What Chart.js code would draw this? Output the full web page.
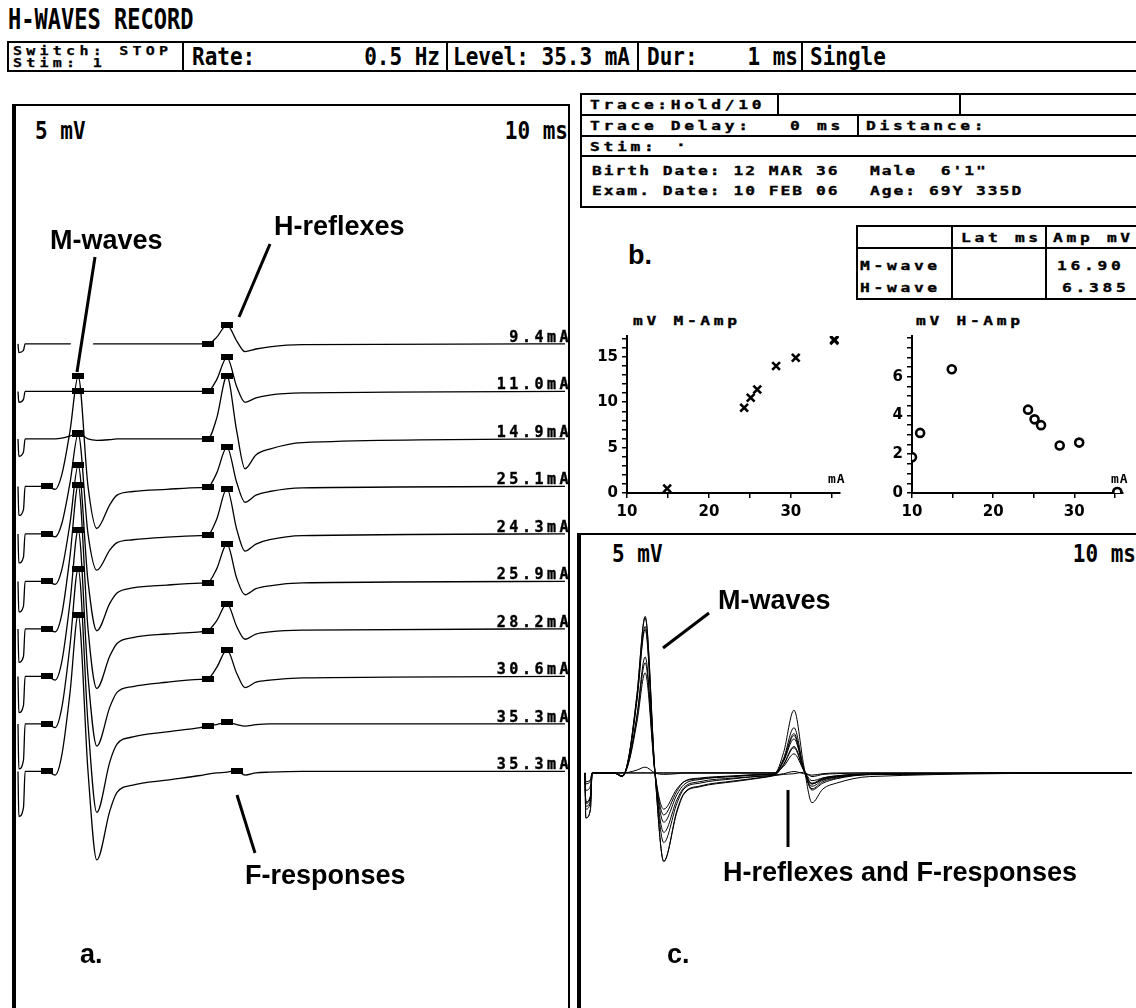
<!DOCTYPE html>
<html>
<head>
<meta charset="utf-8">
<title>H-WAVES RECORD</title>
<script src="https://cdn.jsdelivr.net/npm/chart.js@4.4.1/dist/chart.umd.min.js"></script>
<style>
  html, body { margin:0; padding:0; background:#fff; }
  body { position:relative; width:1136px; height:1008px; overflow:hidden; color:#000; }
  .abs { position:absolute; white-space:pre; line-height:1; }
  .rule { position:absolute; background:#000; }
  .frame { position:absolute; box-sizing:border-box; border:2px solid #000; }
  .crt { font-family:'DejaVu Sans Mono', monospace; font-weight:bold; font-size:21px;
         transform:scaleY(1.2); transform-origin:0 0; }
  .dot { font-family:'DejaVu Sans Mono', monospace; font-weight:bold; font-size:13px;
         letter-spacing:2.95px; transform:scaleX(1.25); transform-origin:0 0;
         -webkit-text-stroke:0.35px #000; }
  .dot.tight { letter-spacing:1.6px; }
  .dot.small { font-size:12px; letter-spacing:3.4px; -webkit-text-stroke:0.25px #000; }
  .note { font-family:'Liberation Sans', Arial, sans-serif; font-weight:bold; font-size:27px; }
  canvas { position:absolute; }
</style>
</head>
<body>

<div class="abs crt" style="left:8px;top:6px;font-size:22px;transform:scaleY(1.25)">H-WAVES RECORD</div>

<!-- stimulator settings bar -->
<div class="frame" style="left:7px;top:41px;width:1140px;height:31px"></div>
<div class="rule" style="left:182px;top:41px;width:2px;height:31px"></div>
<div class="rule" style="left:446px;top:41px;width:2px;height:31px"></div>
<div class="rule" style="left:637px;top:41px;width:2px;height:31px"></div>
<div class="rule" style="left:801px;top:41px;width:2px;height:31px"></div>
<div class="abs dot small" style="left:13px;top:45px">Switch: STOP</div>
<div class="abs dot small" style="left:13px;top:57px">Stim: 1</div>
<div class="abs crt" style="left:192px;top:45px">Rate:</div>
<div class="abs crt" style="left:300px;top:45px;width:140px;text-align:right">0.5 Hz</div>
<div class="abs crt" style="left:453px;top:45px">Level: 35.3 mA</div>
<div class="abs crt" style="left:647px;top:45px">Dur:</div>
<div class="abs crt" style="left:700px;top:45px;width:98px;text-align:right">1 ms</div>
<div class="abs crt" style="left:810px;top:45px">Single</div>

<!-- panel a frame -->
<div class="frame" style="left:12px;top:104px;width:558px;height:1000px;border-left-width:4px"></div>
<div class="abs crt" style="left:35px;top:119px">5 mV</div>
<div class="abs crt" style="left:440px;top:119px;width:128px;text-align:right">10 ms</div>

<!-- trace information block -->
<div class="frame" style="left:580px;top:93px;width:600px;height:115px"></div>
<div class="rule" style="left:580px;top:114px;width:560px;height:2px"></div>
<div class="rule" style="left:580px;top:135px;width:560px;height:2px"></div>
<div class="rule" style="left:580px;top:155px;width:560px;height:2px"></div>
<div class="rule" style="left:777px;top:93px;width:2px;height:22px"></div>
<div class="rule" style="left:959px;top:93px;width:2px;height:22px"></div>
<div class="rule" style="left:857px;top:114px;width:2px;height:22px"></div>
<div class="abs dot" style="left:590px;top:98px">Trace:Hold/10</div>
<div class="abs dot" style="left:590px;top:119px">Trace Delay:</div>
<div class="abs dot" style="left:790px;top:119px">0 ms</div>
<div class="abs dot" style="left:866px;top:119px">Distance:</div>
<div class="abs dot" style="left:590px;top:140px">Stim:</div>
<div class="abs dot" style="left:676px;top:138px">·</div>
<div class="abs dot tight" style="left:592px;top:164px">Birth Date: 12 MAR 36</div>
<div class="abs dot tight" style="left:870px;top:164px">Male  6'1"</div>
<div class="abs dot tight" style="left:592px;top:184px">Exam. Date: 10 FEB 06</div>
<div class="abs dot tight" style="left:870px;top:184px">Age: 69Y 335D</div>

<!-- panel b -->
<div class="abs note" style="left:628px;top:242px">b.</div>
<div class="frame" style="left:856px;top:225px;width:300px;height:75px"></div>
<div class="rule" style="left:856px;top:247px;width:290px;height:2px"></div>
<div class="rule" style="left:951px;top:225px;width:2px;height:75px"></div>
<div class="rule" style="left:1045px;top:225px;width:2px;height:75px"></div>
<div class="abs dot" style="left:961px;top:231px">Lat ms</div>
<div class="abs dot" style="left:1053px;top:231px">Amp mV</div>
<div class="abs dot" style="left:860px;top:259px">M-wave</div>
<div class="abs dot" style="left:860px;top:281px">H-wave</div>
<div class="abs dot" id="mPeakCell" style="left:1057px;top:259px"></div>
<div class="abs dot" id="hPeakCell" style="left:1062px;top:281px"></div>
<div class="abs dot" style="left:633px;top:314px">mV M-Amp</div>
<div class="abs dot" style="left:916px;top:314px">mV H-Amp</div>

<!-- panel c frame -->
<div class="frame" style="left:577px;top:533px;width:600px;height:500px;border-left-width:4px"></div>
<div class="abs crt" style="left:612px;top:542px">5 mV</div>
<div class="abs crt" style="left:1000px;top:542px;width:136px;text-align:right">10 ms</div>

<canvas id="sweepsA" width="552" height="902" style="left:16px;top:106px"></canvas>
<canvas id="sweepsC" width="555" height="473" style="left:581px;top:535px"></canvas>
<canvas id="ampM" width="269" height="206" style="left:587px;top:323px"></canvas>
<canvas id="ampH" width="265" height="206" style="left:872px;top:323px"></canvas>

<!-- annotation callouts -->
<svg class="abs" style="left:0;top:0" width="1136" height="1008">
  <line x1="95" y1="258" x2="81" y2="350" stroke="#fff" stroke-width="22"/>
  <line x1="95" y1="257" x2="77" y2="372" stroke="#000" stroke-width="3"/>
  <line x1="270" y1="244" x2="239" y2="317" stroke="#000" stroke-width="3"/>
  <line x1="237" y1="795" x2="255" y2="853" stroke="#000" stroke-width="3"/>
  <line x1="663" y1="648" x2="709" y2="613" stroke="#000" stroke-width="3"/>
  <line x1="788" y1="790" x2="788" y2="847" stroke="#000" stroke-width="3"/>
</svg>
<div class="abs note" style="left:50px;top:227px">M-waves</div>
<div class="abs note" style="left:274px;top:213px">H-reflexes</div>
<div class="abs note" style="left:245px;top:862px">F-responses</div>
<div class="abs note" style="left:80px;top:941px">a.</div>
<div class="abs note" style="left:718px;top:587px">M-waves</div>
<div class="abs note" style="left:723px;top:859px">H-reflexes and F-responses</div>
<div class="abs note" style="left:667px;top:941px">c.</div>

<script>
// Sample times of each sweep (ms after the stimulus)
const timeMs = [0, 0.15, 1.0, 1.3, 5.3, 6.8, 8.0, 9.5, 11.0, 12.8, 14.4, 16.8, 18.1, 21.0,
                27.2, 33.3, 34.7, 36.3, 38.2, 40.0, 41.5, 43.5, 46.0, 52.0, 100];

// Stimulus intensity of each sweep, top to bottom (mA)
const stimMa = [9.4, 11.0, 14.9, 25.1, 24.3, 25.9, 28.2, 30.6, 35.3, 35.3];

// Recorded potential of each sweep at the sample times (mV)
const sweep1  = [0, -0.6, -0.45, 0, 0, 0, 0, 0, 0, 0, 0, 0, 0, 0, 0, 0, 0, 0.45, 1.32, 0.2, -0.53, -0.35, -0.2, -0.05, 0];
const sweep2  = [0, -0.75, -0.55, 0, 0, 0, 0, 0, 0, 0, 0, 0, 0, 0, 0, 0, 0, 0.8, 2.35, 0.3, -0.75, -0.45, -0.25, -0.1, 0];
const sweep3  = [0, -1.2, -0.9, 0, 0, 0, 0.05, 0.2, 0.4, 0, -0.1, -0.05, 0, 0, 0, 0, 0, 1.4, 4.33, 0.5, -2.055, -1.1, -0.7, -0.25, 0];
const sweep4  = [0, -2.0, -1.6, 0, 0, -0.2, 0.8, 3.8, 7.6, 0, -2.9, -1.25, -0.6, -0.35, -0.2, -0.08, -0.05, 0.9, 2.71, 0.25, -1.09, -0.6, -0.35, -0.1, 0];
const sweep5  = [0, -2.0, -1.6, 0, 0, -0.2, 0.7, 3.5, 6.9, 0, -2.5, -1.1, -0.6, -0.4, -0.22, -0.12, -0.08, 1.0, 3.12, 0.3, -1.18, -0.7, -0.4, -0.12, 0];
const sweep6  = [0, -2.1, -1.7, 0, 0, -0.2, 0.8, 4.0, 8.0, 0, -3.4, -1.5, -0.8, -0.45, -0.25, -0.12, -0.08, 0.85, 2.58, 0.2, -0.92, -0.5, -0.3, -0.1, 0];
const sweep7  = [0, -2.3, -1.9, 0, 0, -0.2, 1.0, 5.0, 9.9, 0, -4.1, -1.85, -1.0, -0.6, -0.35, -0.2, -0.12, 0.55, 1.74, 0.15, -0.71, -0.35, -0.2, -0.08, 0];
const sweep8  = [0, -2.5, -2.0, 0, 0, -0.25, 1.0, 5.1, 10.1, 0, -4.8, -2.1, -1.1, -0.7, -0.4, -0.2, -0.15, 0.6, 1.83, 0.2, -0.77, -0.4, -0.25, -0.1, 0];
const sweep9  = [0, -3.1, -2.5, 0, 0, -0.25, 1.1, 5.4, 10.7, 0, -6.1, -2.6, -1.4, -0.9, -0.55, -0.25, -0.15, -0.05, 0.1, -0.05, -0.15, -0.05, 0, 0, 0];
const sweep10 = [0, -3.1, -2.5, 0, 0, -0.25, 1.1, 5.4, 10.8, 0, -6.1, -2.7, -1.45, -0.95, -0.6, -0.28, -0.18, -0.1, -0.05, 0.05, -0.25, -0.1, -0.05, 0, 0];
const sweepsMv = [sweep1, sweep2, sweep3, sweep4, sweep5, sweep6, sweep7, sweep8, sweep9, sweep10];

// Sample indices carrying a latency cursor on each sweep
const cursorIdx = [[16, 18], [8, 16, 18], [8, 16, 18], [4, 8, 16, 18], [4, 8, 16, 18],
                   [4, 8, 16, 18], [4, 8, 16, 18], [4, 8, 16, 18], [4, 8, 16, 18], [4, 8, 19]];

// Peak-to-peak amplitudes against stimulus intensity
const mAmpStim = [14.9, 24.3, 25.1, 25.9, 28.2, 30.6, 35.3, 35.3];
const mAmpMv   = [0.5, 9.4, 10.5, 11.4, 14.0, 14.9, 16.8, 16.9];
const hAmpStim = [9.4, 11.0, 14.9, 24.3, 25.1, 25.9, 28.2, 30.6, 35.3, 35.3];
const hAmpMv   = [1.85, 3.1, 6.385, 4.3, 3.8, 3.5, 2.45, 2.6, 0.05, 0.05];

// Display constants
const ROW_MV = 3.276;           // vertical spacing between stacked sweeps
const AMP_X_MIN = 10, AMP_X_MAX = 36;

Chart.defaults.font.family = 'DejaVu Sans';
Chart.defaults.color = '#000';

document.getElementById('mPeakCell').textContent = Math.max(...mAmpMv).toFixed(2);
document.getElementById('hPeakCell').textContent = Math.max(...hAmpMv).toFixed(3);

// filled latency cursor
const cursor = document.createElement('canvas');
cursor.width = 12; cursor.height = 6;
cursor.getContext('2d').fillRect(0, 0, 12, 6);

function sweepSets(rowStep, withCursors, lineW) {
  return sweepsMv.map((mv, k) => ({
    data: timeMs.map((t, i) => ({ x: t, y: mv[i] - k * rowStep })),
    borderColor: '#000',
    borderWidth: lineW,
    fill: false,
    cubicInterpolationMode: 'monotone',
    pointStyle: cursor,
    pointRadius: ctx => (withCursors && cursorIdx[k].includes(ctx.dataIndex)) ? 3 : 0,
    pointHoverRadius: 0
  }));
}

// stimulus labels on the right of the stacked sweeps
const stimLabels = {
  id: 'stimLabels',
  afterDatasetsDraw(chart) {
    const { ctx, chartArea, scales } = chart;
    ctx.save();
    ctx.font = 'bold 15px "DejaVu Sans Mono"';
    ctx.letterSpacing = '3.5px';
    ctx.textAlign = 'right';
    ctx.textBaseline = 'alphabetic';
    ctx.fillStyle = '#000';
    ctx.strokeStyle = '#000';
    ctx.lineWidth = 0.4;
    stimMa.forEach((s, k) => {
      const py = scales.y.getPixelForValue(-k * ROW_MV);
      const label = s.toFixed(1) + 'mA';
      ctx.fillText(label, chartArea.right + 4, py - 2);
      ctx.strokeText(label, chartArea.right + 4, py - 2);
    });
    ctx.restore();
  }
};

function sweepChart(id, rowStep, withCursors, lineW, xr, yr, plugins) {
  return new Chart(document.getElementById(id), {
    type: 'line',
    data: { datasets: sweepSets(rowStep, withCursors, lineW) },
    options: {
      responsive: false, animation: false, events: [],
      layout: { padding: 0 },
      plugins: { legend: { display: false }, tooltip: { enabled: false } },
      scales: {
        x: { type: 'linear', display: false, min: xr[0], max: xr[1] },
        y: { type: 'linear', display: false, min: yr[0], max: yr[1] }
      }
    },
    plugins: plugins
  });
}

// a. stacked sweeps, c. superimposed sweeps
sweepChart('sweepsA', ROW_MV, true, 1.3, [-0.366, 100.55], [-45.8, 16.41], [stimLabels]);
sweepChart('sweepsC', 0, false, 1.0, [-0.73, 100.73], [-16.21, 16.41], []);

// unit caption at the end of the intensity axis
const unitCaption = {
  id: 'unitCaption',
  afterDraw(chart) {
    const { ctx, chartArea } = chart;
    ctx.save();
    ctx.font = 'bold 13px "DejaVu Sans Mono"';
    ctx.letterSpacing = '1px';
    ctx.textAlign = 'left';
    ctx.fillStyle = '#000';
    ctx.fillText('mA', chartArea.right - 12, chartArea.bottom - 10);
    ctx.restore();
  }
};

function ampChart(id, xs, ys, o) {
  const axisLine = { display: true, color: '#000', width: 2 };
  const tickMarks = { display: true, drawOnChartArea: false, drawTicks: true, tickLength: 5, color: '#000', lineWidth: 1.5 };
  const tickFont = { family: 'DejaVu Sans', weight: 'bold', size: 15 };
  return new Chart(document.getElementById(id), {
    type: 'scatter',
    data: {
      datasets: [{
        data: xs.map((x, i) => ({ x: Math.max(x, AMP_X_MIN), y: ys[i] })),
        pointStyle: o.style, pointRadius: o.radius, pointHoverRadius: o.radius,
        borderColor: '#000', backgroundColor: o.fill, borderWidth: 2.6
      }]
    },
    options: {
      responsive: false, animation: false, events: [],
      layout: { padding: { top: 12, right: o.padRight, left: 0, bottom: 0 } },
      plugins: { legend: { display: false }, tooltip: { enabled: false } },
      scales: {
        x: {
          type: 'linear', min: AMP_X_MIN, max: AMP_X_MAX,
          afterFit: s => { s.height = 36; },
          border: axisLine, grid: tickMarks,
          ticks: { stepSize: 5, autoSkip: false, maxRotation: 0, includeBounds: false, maxTicksLimit: 100,
                   padding: 5, color: '#000', font: tickFont,
                   callback: v => (v % 10 === 0 ? String(v) : '') }
        },
        y: {
          type: 'linear', min: 0, max: o.yMax,
          afterFit: s => { s.width = 40; },
          border: axisLine, grid: tickMarks,
          ticks: { stepSize: o.yStep, autoSkip: false, includeBounds: false, maxTicksLimit: 100,
                   padding: 4, color: '#000', font: tickFont,
                   callback: v => (Math.abs(v % o.yLabelEvery) < 1e-9 && v <= o.yLabelMax ? String(v) : '') }
        }
      }
    },
    plugins: [unitCaption]
  });
}

ampChart('ampM', mAmpStim, mAmpMv, { style: 'crossRot', radius: 5.5, fill: '#000', yMax: 17.3, yStep: 1, yLabelEvery: 5, yLabelMax: 15, padRight: 16 });
ampChart('ampH', hAmpStim, hAmpMv, { style: 'circle', radius: 4, fill: '#fff', yMax: 8.1, yStep: 0.5, yLabelEvery: 2, yLabelMax: 6, padRight: 14 });
</script>
</body>
</html>
